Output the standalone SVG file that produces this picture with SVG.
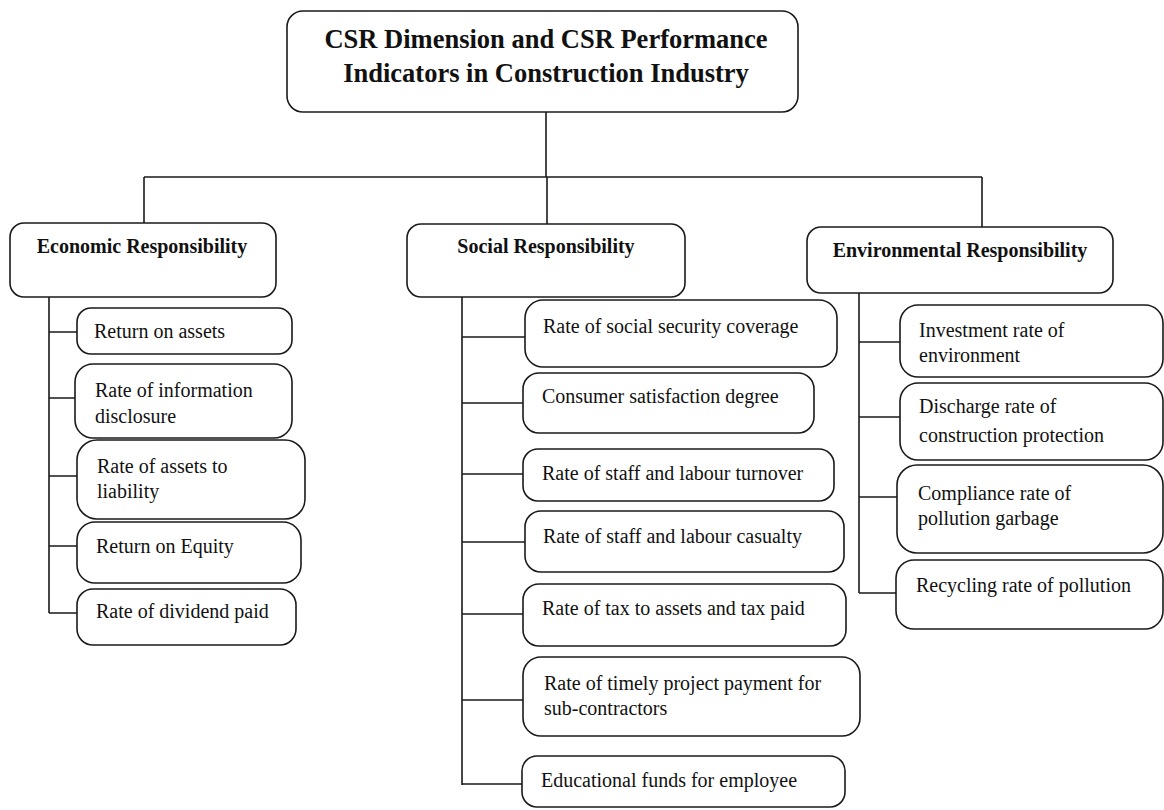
<svg xmlns="http://www.w3.org/2000/svg" width="1164" height="810" viewBox="0 0 1164 810">
<style>
.box{fill:#fff;stroke:#1a1a1a;stroke-width:1.6}
.ln{fill:none;stroke:#1a1a1a;stroke-width:1.6}
.t{font-family:'Liberation Serif','DejaVu Serif',serif;font-size:20px;fill:#111}
.h{font-family:'Liberation Serif','DejaVu Serif',serif;font-size:20px;font-weight:bold;fill:#111}
.title{font-family:'Liberation Serif','DejaVu Serif',serif;font-size:26.5px;font-weight:bold;fill:#111}
</style>
<rect width="1164" height="810" fill="#fff"/>
<g id="connectors">
<path class="ln" d="M546 112 V177 M144 177 H982 M144 177 V223 M547 177 V224 M982 177 V227"/>
<path class="ln" d="M49 297 V613 M49 332 H77 M49 398 H75 M49 476 H77 M49 546 H77 M49 613 H77"/>
<path class="ln" d="M462 297 V785 M462 337 H525 M462 403 H523 M462 474 H523 M462 542 H525 M462 614 H523 M462 700 H523 M462 784 H522"/>
<path class="ln" d="M859 293 V593 M859 342 H900 M859 417 H900 M859 497 H897 M859 593 H896"/>
</g>
<g id="title">
<rect class="box" x="287" y="11" width="511" height="101" rx="16"/>
<text class="title" x="546" y="48" text-anchor="middle">CSR Dimension and CSR Performance</text>
<text class="title" x="546" y="82" text-anchor="middle">Indicators in Construction Industry</text>
</g>
<g id="economic">
<rect class="box" x="10" y="223" width="266" height="74" rx="14"/>
<text class="h" x="142" y="253" text-anchor="middle">Economic Responsibility</text>
</g>
<g id="social">
<rect class="box" x="407" y="224" width="278" height="73" rx="14"/>
<text class="h" x="546" y="253" text-anchor="middle">Social Responsibility</text>
</g>
<g id="environmental">
<rect class="box" x="807" y="227" width="306" height="66" rx="14"/>
<text class="h" x="960" y="257" text-anchor="middle">Environmental Responsibility</text>
</g>
<g id="e1"><rect class="box" x="77" y="308" width="215" height="46" rx="14"/><text class="t" x="94" y="338">Return on assets</text></g>
<g id="e2"><rect class="box" x="75" y="364" width="217" height="74" rx="18"/><text class="t" x="95" y="397">Rate of information</text><text class="t" x="95" y="423">disclosure</text></g>
<g id="e3"><rect class="box" x="77" y="440" width="228" height="79" rx="20"/><text class="t" x="97" y="473">Rate of assets to</text><text class="t" x="97" y="498">liability</text></g>
<g id="e4"><rect class="box" x="77" y="522" width="224" height="61" rx="18"/><text class="t" x="96" y="553">Return on Equity</text></g>
<g id="e5"><rect class="box" x="77" y="589" width="219" height="56" rx="16"/><text class="t" x="96" y="618">Rate of dividend paid</text></g>
<g id="s1"><rect class="box" x="525" y="300" width="312" height="67" rx="18"/><text class="t" x="543" y="333">Rate of social security coverage</text></g>
<g id="s2"><rect class="box" x="523" y="373" width="291" height="60" rx="16"/><text class="t" x="542" y="403">Consumer satisfaction degree</text></g>
<g id="s3"><rect class="box" x="523" y="449" width="311" height="52" rx="15"/><text class="t" x="542" y="480">Rate of staff and labour turnover</text></g>
<g id="s4"><rect class="box" x="525" y="511" width="319" height="61" rx="16"/><text class="t" x="543" y="543">Rate of staff and labour casualty</text></g>
<g id="s5"><rect class="box" x="523" y="584" width="323" height="62" rx="16"/><text class="t" x="542" y="615">Rate of tax to assets and tax paid</text></g>
<g id="s6"><rect class="box" x="523" y="657" width="337" height="79" rx="18"/><text class="t" x="544" y="690">Rate of timely project payment for</text><text class="t" x="544" y="715">sub-contractors</text></g>
<g id="s7"><rect class="box" x="522" y="756" width="323" height="51" rx="15"/><text class="t" x="541" y="787">Educational funds for employee</text></g>
<g id="v1"><rect class="box" x="900" y="305" width="263" height="72" rx="18"/><text class="t" x="919" y="337">Investment rate of</text><text class="t" x="919" y="362">environment</text></g>
<g id="v2"><rect class="box" x="900" y="383" width="263" height="77" rx="18"/><text class="t" x="919" y="413">Discharge rate of</text><text class="t" x="919" y="442">construction protection</text></g>
<g id="v3"><rect class="box" x="897" y="465" width="266" height="88" rx="20"/><text class="t" x="918" y="500">Compliance rate of</text><text class="t" x="918" y="525">pollution garbage</text></g>
<g id="v4"><rect class="box" x="896" y="560" width="267" height="69" rx="18"/><text class="t" x="916" y="592">Recycling rate of pollution</text></g>
</svg>
